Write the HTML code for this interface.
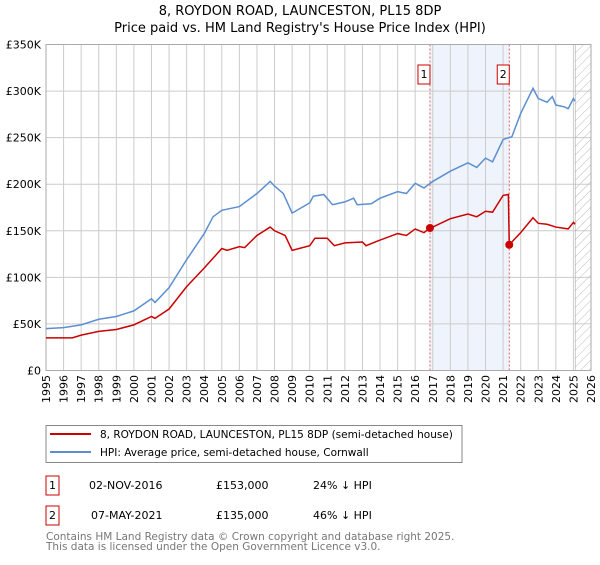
<!DOCTYPE html>
<html><head><meta charset="utf-8"><style>
body{margin:0;background:#fff;font-family:"Liberation Sans","DejaVu Sans",sans-serif;}
</style></head><body>
<svg width="600" height="560" xmlns="http://www.w3.org/2000/svg" font-family="DejaVu Sans, Liberation Sans, sans-serif">
<defs><pattern id="hatch" width="6" height="6" patternUnits="userSpaceOnUse" patternTransform="rotate(45)"><line x1="0" y1="0" x2="0" y2="6" stroke="#bbb" stroke-width="1"/></pattern></defs>
<text x="300" y="15" text-anchor="middle" font-size="13">8, ROYDON ROAD, LAUNCESTON, PL15 8DP</text>
<text x="300" y="32" text-anchor="middle" font-size="13">Price paid vs. HM Land Registry's House Price Index (HPI)</text>
<g id="plot"></g>
<g>
<rect x="46" y="425.5" width="416" height="37" fill="#fff" stroke="#888"/>
<line x1="50" y1="434" x2="91" y2="434" stroke="#cc0000" stroke-width="2"/>
<text x="100" y="438" font-size="10.5">8, ROYDON ROAD, LAUNCESTON, PL15 8DP (semi-detached house)</text>
<line x1="50" y1="452" x2="91" y2="452" stroke="#5b8fd0" stroke-width="2"/>
<text x="100" y="456" font-size="10.5">HPI: Average price, semi-detached house, Cornwall</text>
</g>
<g font-size="11">
<rect x="46" y="476" width="13" height="19" fill="#fff" stroke="#cc0000"/>
<text x="52.5" y="489" text-anchor="middle">1</text>
<text x="89" y="489">02-NOV-2016</text><text x="216" y="489">£153,000</text><text x="313" y="489">24% ↓ HPI</text>
<rect x="46" y="506" width="13" height="19" fill="#fff" stroke="#cc0000"/>
<text x="52.5" y="519" text-anchor="middle">2</text>
<text x="91" y="519">07-MAY-2021</text><text x="216" y="519">£135,000</text><text x="313" y="519">46% ↓ HPI</text>
</g>
<text x="46" y="540" font-size="10.5" fill="#777">Contains HM Land Registry data © Crown copyright and database right 2025.</text>
<text x="46" y="550" font-size="10.5" fill="#777">This data is licensed under the Open Government Licence v3.0.</text>
</svg>
<script>
const yTicks=[0,50000,100000,150000,200000,250000,300000,350000];
const yTickLabels=["£0","£50K","£100K","£150K","£200K","£250K","£300K","£350K"];
const years=[1995,1996,1997,1998,1999,2000,2001,2002,2003,2004,2005,2006,2007,2008,2009,2010,2011,2012,2013,2014,2015,2016,2017,2018,2019,2020,2021,2022,2023,2024,2025,2026];
const hpiDates=[1995,1996,1997,1998,1999,2000,2001,2001.2,2002,2003,2004,2004.5,2005,2006,2007,2007.75,2008,2008.5,2009,2010,2010.2,2010.8,2011.3,2012,2012.5,2012.7,2013.5,2014,2015,2015.5,2016,2016.5,2017,2018,2019,2019.5,2020,2020.4,2021,2021.5,2022,2022.7,2023,2023.5,2023.8,2024,2024.5,2024.7,2025,2025.1];
const hpiValues=[45,46,49,55,58,64,77,73,89,119,147,165,172,176,190,203,198,190,169,180,187,189,178,181,185,178,179,185,192,190,201,196,203,214,223,218,228,224,248,251,276,303,292,288,294,285,283,281,292,289];
const priceDates=[1995,1996.5,1997,1998,1999,2000,2001,2001.2,2002,2003,2004,2005,2005.3,2006,2006.3,2007,2007.75,2008,2008.6,2009,2010,2010.3,2011,2011.4,2012,2013,2013.2,2014,2015,2015.5,2016,2016.5,2016.84,2017,2018,2019,2019.5,2020,2020.4,2021,2021.3,2021.35,2022,2022.7,2023,2023.5,2024,2024.7,2025,2025.1];
const priceValues=[35,35,38,42,44,49,58,56,66,90,110,131,129,133,132,145,154,150,145,129,134,142,142,134,137,138,134,140,147,145,152,148,153,154,163,168,165,171,170,188,189,135,148,164,158,157,154,152,159,157];
const saleDates=[2016.84,2021.35];
const saleValues=[153,135];
const saleLabels=["1","2"];
const hatchStart=2025.1;

const X0=46,X1=591,Y0=370.5,Y1=44.5;
const x=d=>X0+(d-1995)/(2026-1995)*(X1-X0);
const y=v=>Y0-v/350000*(Y0-Y1);
const NS="http://www.w3.org/2000/svg";
const g=document.getElementById('plot');
function mk(tag,attrs,parent){const e=document.createElementNS(NS,tag);for(const k in attrs)e.setAttribute(k,attrs[k]);(parent||g).appendChild(e);return e;}
let r=mk('rect',{x:X0,y:Y1,width:X1-X0,height:Y0-Y1,fill:'#fff'});


let sh=mk('rect',{x:x(saleDates[0]),y:Y1,width:x(saleDates[1])-x(saleDates[0]),height:Y0-Y1,fill:'#eef3fc'});


years.forEach(yr=>{
 const l=mk('line',{x1:x(yr),x2:x(yr),y1:Y1,y2:Y0,stroke:'#ccc','stroke-width':1});
 
 
 const t=mk('text',{x:0,y:0,'font-size':11,'text-anchor':'end',transform:`translate(${x(yr)+4},375) rotate(-90)`});
 t.textContent=yr;
 
 
});
yTicks.forEach((v,i)=>{
 const l=mk('line',{x1:X0,x2:X1,y1:y(v),y2:y(v),stroke:'#ccc','stroke-width':1});
 
 
 const t=mk('text',{x:41,y:y(v)+4,'font-size':11,'text-anchor':'end'});
 t.textContent=yTickLabels[i];
 
 
});
let hr=mk('rect',{x:x(hatchStart),y:Y1,width:X1-x(hatchStart),height:Y0-Y1,fill:'url(#hatch)',stroke:'#999','stroke-width':0.5});


saleDates.forEach((d,i)=>{
 const l=mk('line',{x1:x(d),x2:x(d),y1:Y1,y2:Y0,stroke:'#e06060','stroke-width':1,'stroke-dasharray':'2,2'});
 
 
 const b=mk('rect',{x:x(d)-12,y:65,width:12,height:19,fill:'#fff',stroke:'#cc0000'});
 
 
 const t=mk('text',{x:x(d)-6,y:78,'font-size':11,'text-anchor':'middle'});
 t.textContent=saleLabels[i];
 
 
});
const ax=mk('rect',{x:X0,y:Y1,width:X1-X0,height:Y0-Y1,fill:'none',stroke:'#aaa'});


const hp=mk('polyline',{points:hpiDates.map((d,i)=>x(d)+','+y(hpiValues[i]*1000)).join(' '),fill:'none',stroke:'#5b8fd0','stroke-width':1.5});


const pp=mk('polyline',{points:priceDates.map((d,i)=>x(d)+','+y(priceValues[i]*1000)).join(' '),fill:'none',stroke:'#cc0000','stroke-width':1.5});


saleDates.forEach((d,i)=>{
 const c=mk('circle',{cx:x(d),cy:y(saleValues[i]*1000),r:4,fill:'#cc0000'});
 
 
});
</script>
</body></html>
